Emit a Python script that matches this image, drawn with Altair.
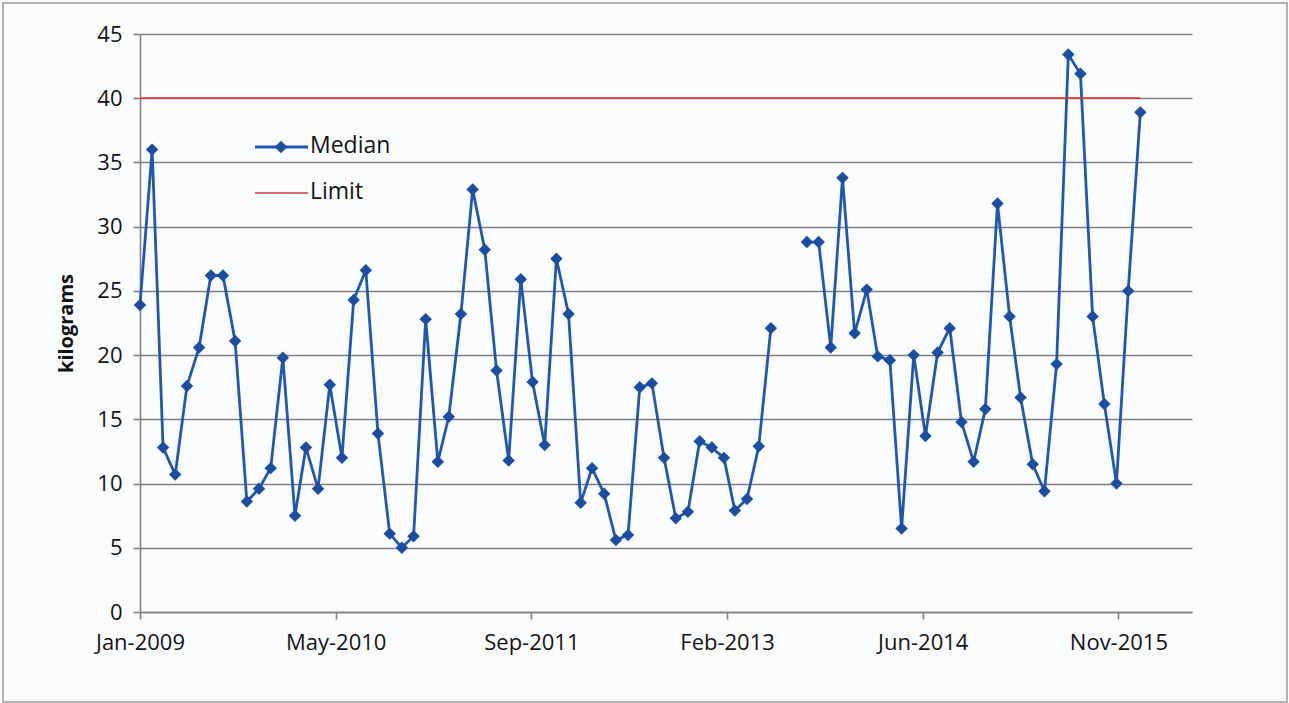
import altair as alt
import pandas as pd

# ---- data ----
start_month = "2009-01-01"
n_months = 85
median_kg = [
    23.9, 36.0, 12.8, 10.7, 17.6, 20.6, 26.2, 26.2, 21.1, 8.6,
    9.6, 11.2, 19.8, 7.5, 12.8, 9.6, 17.7, 12.0, 24.3, 26.6,
    13.9, 6.1, 5.0, 5.9, 22.8, 11.7, 15.2, 23.2, 32.9, 28.2,
    18.8, 11.8, 25.9, 17.9, 13.0, 27.5, 23.2, 8.5, 11.2, 9.2,
    5.6, 6.0, 17.5, 17.8, 12.0, 7.3, 7.8, 13.3, 12.8, 12.0,
    7.9, 8.8, 12.9, 22.1, None, None, 28.8, 28.8, 20.6, 33.8,
    21.7, 25.1, 19.9, 19.6, 6.5, 20.0, 13.7, 20.2, 22.1, 14.8,
    11.7, 15.8, 31.8, 23.0, 16.7, 11.5, 9.4, 19.3, 43.4, 41.9,
    23.0, 16.2, 10.0, 25.0, 38.9,
]
limit_dates = ["2009-01-01", "2016-01-01"]
limit_values = [40, 40]
x_tick_dates = [(2009, 1, 1), (2010, 5, 16), (2011, 9, 28),
                (2013, 2, 9), (2014, 6, 24), (2015, 11, 6)]
y_ticks = [0, 5, 10, 15, 20, 25, 30, 35, 40, 45]
legend_labels = ["Median", "Limit"]

dates = pd.date_range(start_month, periods=n_months, freq="MS").strftime("%Y-%m-%d")
df = pd.DataFrame({"date": list(dates), "kg": median_kg})
df_limit = pd.DataFrame({"date": limit_dates, "kg": limit_values})

FONT = "Open Sans"
BLUE = "#2257b0"
BLUE_DARK = "#1b4ea3"
RED = "#d63a3c"
GRID = "#808080"
TXT = "#141414"

x_scale = alt.Scale(
    type="utc",
    domain=[alt.DateTime(year=2009, month=1, date=1, utc=True),
            alt.DateTime(year=2016, month=5, date=12, utc=True)],
)
y_scale = alt.Scale(domain=[0, 45], nice=False)

x_axis = alt.Axis(
    values=[alt.DateTime(year=y, month=m, date=d, utc=True) for (y, m, d) in x_tick_dates],
    format="%b-%Y", title=None, grid=False,
    labelFont=FONT, labelFontSize=22, labelColor=TXT,
    labelPadding=13, tickSize=7, tickColor=GRID, tickWidth=1.6,
    domainColor=GRID, domainWidth=1.6, labelFlush=False, labelOverlap=False,
)
y_axis = alt.Axis(
    values=y_ticks, title="kilograms", grid=True, gridColor=GRID, gridWidth=1.7,
    labelFont=FONT, labelFontSize=22, labelColor=TXT, labelPadding=11,
    tickSize=7, tickColor=GRID, tickWidth=1.6, domainColor=GRID, domainWidth=1.6,
    titleFont=FONT, titleFontSize=20, titleFontWeight="bold", titleColor=TXT,
    titlePadding=20,
)

x_enc = alt.X("date:T", scale=x_scale, axis=x_axis)
y_enc = alt.Y("kg:Q", scale=y_scale, axis=y_axis)

frame = alt.Chart(pd.DataFrame({"k": [0]})).mark_rect(
    fill=None, stroke="#9a9a9a", strokeWidth=1.5
).encode(x=alt.value(-137), x2=alt.value(1147), y=alt.value(-31), y2=alt.value(668))

line = alt.Chart(df).mark_line(
    color=BLUE, strokeWidth=2.8, invalid="break-paths-show-domains"
).encode(x=x_enc, y=y_enc)

limit = alt.Chart(df_limit).mark_line(color=RED, strokeWidth=1.7).encode(
    x=x_enc, y=y_enc
)

points = alt.Chart(df).mark_point(
    shape="diamond", filled=True, size=155, color=BLUE_DARK, opacity=1,
    invalid="break-paths-show-domains"
).encode(x=x_enc, y=y_enc)

# ---- legend (drawn inside the plot, top-left) ----
leg_med = pd.DataFrame({"label": [legend_labels[0]]})
leg_lim = pd.DataFrame({"label": [legend_labels[1]]})
leg_line1 = alt.Chart(leg_med).mark_rule(color=BLUE, strokeWidth=2.8).encode(
    x=alt.value(115), x2=alt.value(168), y=alt.value(113))
leg_pt = alt.Chart(leg_med).mark_point(
    shape="diamond", filled=True, size=155, color=BLUE_DARK, opacity=1
).encode(x=alt.value(141), y=alt.value(113))
leg_txt1 = alt.Chart(leg_med).mark_text(
    align="left", baseline="middle", font=FONT, fontSize=23, color=TXT
).encode(x=alt.value(170), y=alt.value(112), text="label:N")
leg_line2 = alt.Chart(leg_lim).mark_rule(color=RED, strokeWidth=1.7).encode(
    x=alt.value(115), x2=alt.value(168), y=alt.value(159))
leg_txt2 = alt.Chart(leg_lim).mark_text(
    align="left", baseline="middle", font=FONT, fontSize=23, color=TXT
).encode(x=alt.value(170), y=alt.value(158), text="label:N")

chart = alt.layer(
    line, limit, points, frame, leg_line1, leg_pt, leg_txt1, leg_line2, leg_txt2
).properties(
    width=1052, height=578,
    autosize=alt.AutoSizeParams(type="none"),
    padding={"left": 140, "top": 34, "right": 97, "bottom": 91},
    background="#fafbfd",
).configure_view(stroke=None)

chart.save("out.html", embed_options={"renderer": "svg", "actions": False})
